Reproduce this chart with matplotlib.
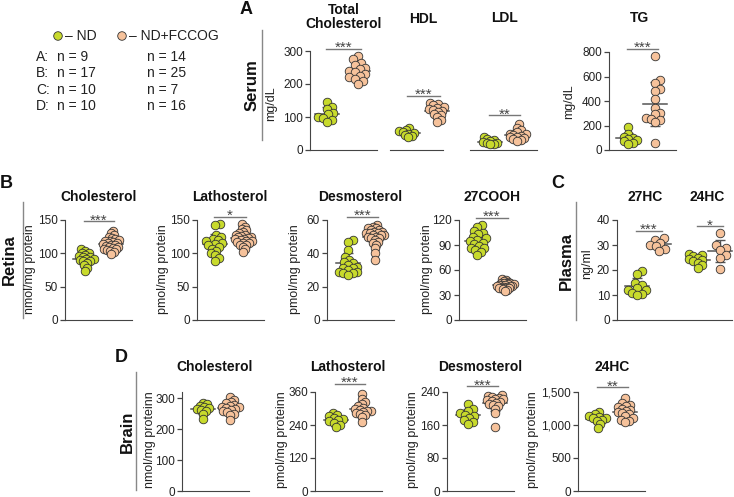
import numpy as np
import matplotlib
matplotlib.use("Agg")
import matplotlib.pyplot as plt
from matplotlib.ticker import StrMethodFormatter

plt.rcParams['font.family'] = ['Liberation Sans', 'DejaVu Sans']

W, H = 734, 497
ND_COL = '#c8da2c'
FC_COL = '#f6c29b'
EDGE = '#333333'
GREY = '#555555'

# ---- data ----
n_rows = ['A:', 'B:', 'C:', 'D:']
n_nd = [9, 17, 10, 10]
n_fc = [14, 25, 7, 16]

serum_tc_nd = [145, 130, 125, 112, 108, 100, 98, 92, 85]
serum_tc_fc = [285, 275, 265, 258, 250, 245, 240, 235, 230, 225, 220, 215, 210, 200]
serum_hdl_nd = [68, 60, 57, 55, 52, 50, 45, 42, 38]
serum_hdl_fc = [142, 140, 135, 130, 128, 125, 122, 118, 115, 110, 105, 100, 92, 85]
serum_ldl_nd = [38, 32, 30, 28, 25, 22, 20, 18, 17]
serum_ldl_fc = [78, 68, 60, 55, 50, 47, 45, 43, 40, 38, 36, 33, 30, 28]
serum_tg_nd = [190, 130, 110, 100, 90, 80, 70, 60, 50]
serum_tg_fc = [765, 570, 550, 495, 485, 420, 340, 300, 290, 265, 255, 245, 230, 60]

retina_chol_nd = [106, 104, 101, 100, 98, 96, 95, 94, 92, 91, 90, 89, 88, 86, 82, 78, 73]
retina_chol_fc = [134, 130, 127, 125, 123, 121, 120, 119, 118, 117, 116, 115, 114, 113,
                  112, 111, 110, 109, 108, 107, 106, 105, 104, 102, 99]
retina_latho_nd = [144, 142, 128, 125, 122, 120, 118, 116, 114, 112, 110, 107, 104, 100, 97, 93, 89]
retina_latho_fc = [144, 140, 137, 135, 132, 130, 128, 127, 126, 125, 124, 123, 122, 121,
                   120, 119, 118, 117, 116, 115, 113, 112, 110, 106, 102]
retina_desmo_nd = [48, 47, 42, 38, 36, 35, 34, 33, 32, 31, 31, 30, 29, 29, 28, 28, 27]
retina_desmo_fc = [57, 56, 55, 55, 54, 54, 53, 53, 52, 52, 52, 51, 51, 51, 50, 50, 49, 49,
                   48, 47, 46, 45, 43, 40, 36]
retina_cooh_nd = [114, 112, 107, 105, 103, 100, 98, 96, 95, 93, 91, 89, 87, 86, 84, 82, 78]
retina_cooh_fc = [49, 48, 47, 46, 45, 45, 44, 44, 43, 43, 42, 42, 42, 41, 41, 41, 40, 40,
                  39, 39, 38, 38, 37, 36, 35]

plasma_27hc_nd = [19.5, 18.5, 15, 14, 13, 12, 12, 11, 10.5, 10]
plasma_27hc_fc = [33, 32, 31, 30, 29.5, 28.5, 27.5]
plasma_24hc_nd = [26.5, 26, 25.5, 25, 24.5, 24, 23.5, 23, 22, 21]
plasma_24hc_fc = [35, 30, 29, 28, 26, 25, 20.5]

brain_chol_nd = [285, 280, 275, 270, 268, 265, 262, 258, 250, 233]
brain_chol_fc = [305, 295, 288, 283, 278, 275, 272, 270, 268, 265, 262, 258, 255, 250, 245, 228]
brain_latho_nd = [284, 278, 272, 266, 262, 258, 254, 248, 240, 232]
brain_latho_fc = [354, 335, 325, 315, 308, 302, 298, 295, 292, 290, 287, 285, 280, 275, 268, 252]
brain_desmo_nd = [210, 200, 195, 190, 185, 182, 178, 172, 168, 163]
brain_desmo_fc = [232, 230, 228, 226, 224, 222, 220, 218, 216, 214, 212, 208, 205, 200, 190, 155]
brain_24hc_nd = [1190, 1160, 1140, 1120, 1110, 1100, 1080, 1060, 1020, 960]
brain_24hc_fc = [1410, 1330, 1310, 1290, 1270, 1250, 1230, 1210, 1200, 1180, 1160, 1130,
                 1100, 1080, 1060, 1040]

fig = plt.figure(figsize=(W / 100, H / 100), dpi=100)


def swarm(vals, ppu, d=6.5, max_half=9.5):
    # simple beeswarm, offsets in pixels; shrink spacing when too wide
    y = np.asarray(vals, float) * ppu
    while True:
        offs = np.zeros(len(y))
        done = []
        for i in np.argsort(y):
            cands = [0.0]
            for j in done:
                dy = y[i] - y[j]
                if abs(dy) < d:
                    dx = np.sqrt(d * d - dy * dy)
                    cands += [offs[j] + dx, offs[j] - dx]
            for c in sorted(cands, key=abs):
                if all((c - offs[j]) ** 2 + (y[i] - y[j]) ** 2 >= d * d - 1e-6 for j in done):
                    offs[i] = c
                    break
            done.append(i)
        if np.abs(offs).max() <= max_half or d < 2:
            return offs
        d *= 0.93


def panel(x0, x1, ytop, ybot, ylim, yticks, pos, series, sigs=(), yaxis=True, fmt=None):
    ax = fig.add_axes([x0 / W, 1 - ybot / H, (x1 - x0) / W, (ybot - ytop) / H])
    ax.set_xlim(0, x1 - x0)
    ax.set_ylim(*ylim)
    ax.patch.set_alpha(0)
    ppu = (ybot - ytop) / (ylim[1] - ylim[0])
    for p, (vals, col) in zip(pos, series):
        v = np.asarray(vals, float)
        ax.scatter(p + swarm(v, ppu), v, s=38, c=col, edgecolors=EDGE,
                   linewidths=0.6, zorder=3, clip_on=False)
        m, sd = v.mean(), v.std(ddof=1)
        ax.plot([p - 12, p + 12], [m, m], color=GREY, lw=1.1, zorder=2, clip_on=False)
        ax.errorbar(p, m, yerr=sd, color=GREY, lw=1, capsize=3.5, capthick=1, zorder=2)
    for p0, p1, y, lab in sigs:
        ax.plot([p0 - 1, p1 + 3], [y, y], color='#777777', lw=1, clip_on=False)
        ax.annotate(lab, ((p0 + p1) / 2 + 1, y), xytext=(0, -2.5), textcoords='offset points',
                    ha='center', va='baseline', fontsize=11, color='#444444',
                    annotation_clip=False)
    for s in ['top', 'right']:
        ax.spines[s].set_visible(False)
    ax.spines['bottom'].set_color('#444444')
    ax.spines['left'].set_color('#444444')
    ax.set_xticks([])
    if yaxis:
        ax.set_yticks(yticks)
        ax.tick_params(axis='y', direction='out', length=3.5, width=0.9, labelsize=8.5,
                       pad=1.5, color='#444444', labelcolor='#222222')
        if fmt:
            ax.yaxis.set_major_formatter(StrMethodFormatter(fmt))
    else:
        ax.spines['left'].set_visible(False)
        ax.set_yticks([])
    return ax


# ---- A: serum ----
panel(310, 377, 51, 150, (0, 300), [0, 100, 200, 300], [17, 48],
      [(serum_tc_nd, ND_COL), (serum_tc_fc, FC_COL)], [(17, 48, 307, '***')])
panel(390, 443, 51, 150, (0, 300), [], [18, 47],
      [(serum_hdl_nd, ND_COL), (serum_hdl_fc, FC_COL)], [(18, 47, 165, '***')], yaxis=False)
panel(470, 537, 51, 150, (0, 300), [], [20, 47],
      [(serum_ldl_nd, ND_COL), (serum_ldl_fc, FC_COL)], [(20, 47, 105, '**')], yaxis=False)
panel(609, 676, 52, 150, (0, 800), [0, 200, 400, 600, 800], [19, 46],
      [(serum_tg_nd, ND_COL), (serum_tg_fc, FC_COL)], [(19, 46, 827, '***')])

# ---- B: retina ----
panel(65, 132, 220, 320, (0, 150), [0, 50, 100, 150], [20, 46],
      [(retina_chol_nd, ND_COL), (retina_chol_fc, FC_COL)], [(20, 46, 148, '***')])
panel(197, 264, 220, 320, (0, 150), [0, 50, 100, 150], [18, 46],
      [(retina_latho_nd, ND_COL), (retina_latho_fc, FC_COL)], [(18, 46, 155, '*')])
panel(327, 394, 220, 320, (0, 60), [0, 20, 40, 60], [21, 48],
      [(retina_desmo_nd, ND_COL), (retina_desmo_fc, FC_COL)], [(21, 48, 62, '***')])
panel(459, 526, 220, 320, (0, 120), [0, 30, 60, 90, 120], [18, 46],
      [(retina_cooh_nd, ND_COL), (retina_cooh_fc, FC_COL)], [(18, 46, 123, '***')])

# ---- C: plasma ----
panel(617, 732, 220, 320, (0, 40), [0, 10, 20, 30, 40], [20, 42, 81, 103],
      [(plasma_27hc_nd, ND_COL), (plasma_27hc_fc, FC_COL),
       (plasma_24hc_nd, ND_COL), (plasma_24hc_fc, FC_COL)],
      [(20, 42, 35.8, '***'), (81, 103, 37.5, '*')])

# ---- D: brain ----
panel(182, 249, 392, 491, (0, 320), [0, 100, 200, 300], [21, 48],
      [(brain_chol_nd, ND_COL), (brain_chol_fc, FC_COL)])
panel(315, 382, 392, 491, (0, 360), [0, 120, 240, 360], [21, 47],
      [(brain_latho_nd, ND_COL), (brain_latho_fc, FC_COL)], [(21, 47, 390, '***')])
panel(447, 514, 392, 491, (0, 240), [0, 80, 160, 240], [21, 48],
      [(brain_desmo_nd, ND_COL), (brain_desmo_fc, FC_COL)], [(21, 48, 254, '***')])
panel(578, 645, 392, 491, (0, 1500), [0, 500, 1000, 1500], [20, 47],
      [(brain_24hc_nd, ND_COL), (brain_24hc_fc, FC_COL)], [(20, 47, 1576, '**')], fmt='{x:,.0f}')

# ---- overlay: labels, titles, legend ----
ov = fig.add_axes([0, 0, 1, 1])
ov.set_xlim(0, W)
ov.set_ylim(H, 0)
ov.axis('off')

bold = dict(ha='center', va='center', fontweight='bold', color='#111111')
for x, y, s in [(246, 9, 'A'), (6, 184, 'B'), (558, 183, 'C'), (121, 357, 'D')]:
    ov.text(x, y, s, fontsize=13, **bold)

ov.text(344, 17, 'Total\nCholesterol', fontsize=10, linespacing=0.95, **bold)
titles = [(423, 19, 'HDL'), (504, 18, 'LDL'), (639, 18, 'TG'),
          (99, 197, 'Cholesterol'), (230, 197, 'Lathosterol'), (360, 197, 'Desmosterol'),
          (492, 197, '27COOH'), (645, 197, '27HC'), (707, 197, '24HC'),
          (215, 367, 'Cholesterol'), (348, 367, 'Lathosterol'), (480, 367, 'Desmosterol'),
          (612, 367, '24HC')]
for x, y, s in titles:
    ov.text(x, y, s, fontsize=10, **bold)

for x, y, s, (ya, yb), lx in [(252, 85, 'Serum', (30, 140), 262),
                               (9, 260, 'Retina', (202, 318), 23),
                               (566, 261, 'Plasma', (202, 320), 576),
                               (127, 432, 'Brain', (372, 490), 136)]:
    ov.text(x, y, s, fontsize=12, rotation=90, **bold)
    ov.plot([lx, lx], [ya, yb], color='#888888', lw=1)

ylabs = [(271, 104, 'mg/dL'), (569, 102, 'mg/dL'),
         (30, 269, 'nmol/mg protein'), (163, 269, 'pmol/mg protein'),
         (295, 269, 'pmol/mg protein'), (427, 269, 'pmol/mg protein'), (587, 264, 'ng/ml'),
         (150, 440, 'nmol/mg proteinn'), (282, 440, 'pmol/mg proteinn'),
         (413, 440, 'pmol/mg proteinn'), (533, 440, 'pmol/mg proteinn')]
for x, y, s in ylabs:
    ov.text(x, y, s, fontsize=9, rotation=90, ha='center', va='center', color='#222222')

# legend block
ov.scatter([58, 122], [36, 36], s=38, c=[ND_COL, FC_COL], edgecolors=EDGE, linewidths=0.6)
ov.text(65, 36, '– ND', fontsize=10, va='center', color='#222222')
ov.text(129, 36, '– ND+FCCOG', fontsize=10, va='center', color='#222222')
for i, (r, a, b) in enumerate(zip(n_rows, n_nd, n_fc)):
    y = 57 + i * 16.4
    ov.text(36, y, r, fontsize=10, va='center', color='#222222')
    ov.text(57, y, f'n = {a}', fontsize=10, va='center', color='#222222')
    ov.text(147, y, f'n = {b}', fontsize=10, va='center', color='#222222')

fig.savefig('out.png', dpi=100)
